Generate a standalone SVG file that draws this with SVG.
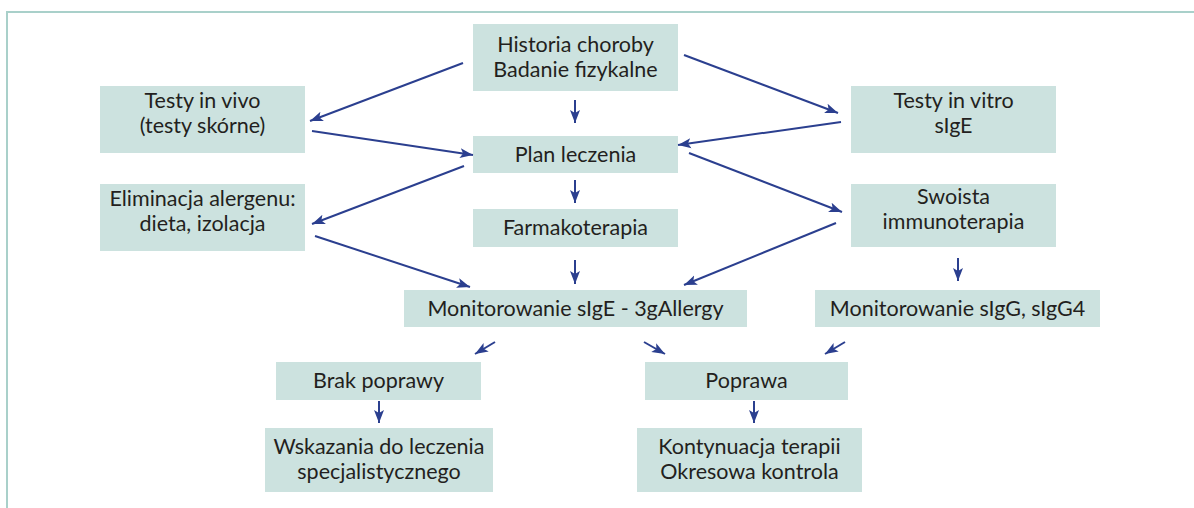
<svg xmlns="http://www.w3.org/2000/svg" width="1194" height="508" viewBox="0 0 1194 508">
<style>
.box{fill:#cce2df}
.t{font-family:Lato,"Liberation Sans",sans-serif;font-size:21.5px;fill:#231f20;text-anchor:middle}
.c{stroke:#2b3f8f;stroke-width:2;fill:none;marker-end:url(#ah)}
</style>
<defs>
<marker id="ah" markerWidth="14" markerHeight="12" refX="13" refY="5.5" orient="auto" markerUnits="userSpaceOnUse">
<path d="M0,0.5 L13,5.5 L0,10.5 L3,5.5 z" fill="#2b3f8f"/>
</marker>
</defs>
<rect width="1194" height="508" fill="#fff"/>
<path d="M7,508 V12 H1194" fill="none" stroke="#a9d0ca" stroke-width="2"/>
<g id="historia"><rect class="box" x="473" y="24" width="205" height="67"/><text class="t" x="575.5" y="52">Historia choroby</text><text class="t" x="575.5" y="77">Badanie fizykalne</text></g>
<g id="vivo"><rect class="box" x="100" y="86" width="205" height="67"/><text class="t" x="202.5" y="108">Testy in vivo</text><text class="t" x="202.5" y="133">(testy skórne)</text></g>
<g id="vitro"><rect class="box" x="851" y="86" width="205" height="67"/><text class="t" x="953.5" y="108">Testy in vitro</text><text class="t" x="953.5" y="133">sIgE</text></g>
<g id="plan"><rect class="box" x="473" y="136" width="205" height="37"/><text class="t" x="575.5" y="162">Plan leczenia</text></g>
<g id="eliminacja"><rect class="box" x="100" y="184" width="205" height="67"/><text class="t" x="202.5" y="206">Eliminacja alergenu:</text><text class="t" x="202.5" y="231">dieta, izolacja</text></g>
<g id="farmako"><rect class="box" x="473" y="209" width="205" height="38"/><text class="t" x="575.5" y="235">Farmakoterapia</text></g>
<g id="swoista"><rect class="box" x="851" y="184" width="205" height="63"/><text class="t" x="953.5" y="204">Swoista</text><text class="t" x="953.5" y="229">immunoterapia</text></g>
<g id="monsige"><rect class="box" x="404" y="290" width="343" height="37"/><text class="t" x="575.5" y="316">Monitorowanie sIgE - 3gAllergy</text></g>
<g id="monsigg"><rect class="box" x="815" y="290" width="285" height="37"/><text class="t" x="957.5" y="316">Monitorowanie sIgG, sIgG4</text></g>
<g id="brak"><rect class="box" x="276" y="362" width="205" height="38"/><text class="t" x="378.5" y="388">Brak poprawy</text></g>
<g id="poprawa"><rect class="box" x="645" y="362" width="203" height="38"/><text class="t" x="746.5" y="388">Poprawa</text></g>
<g id="wskazania"><rect class="box" x="265" y="428" width="228" height="64"/><text class="t" x="379" y="453.5">Wskazania do leczenia</text><text class="t" x="379" y="478.5">specjalistycznego</text></g>
<g id="kontynuacja"><rect class="box" x="637" y="428" width="225" height="64"/><text class="t" x="749.5" y="453.5">Kontynuacja terapii</text><text class="t" x="749.5" y="478.5">Okresowa kontrola</text></g>
<g id="connectors">
<line class="c" x1="463" y1="63" x2="310" y2="121"/>
<line class="c" x1="312" y1="131" x2="473" y2="155"/>
<line class="c" x1="684" y1="55" x2="838" y2="113"/>
<line class="c" x1="841" y1="122" x2="678" y2="145"/>
<line class="c" x1="575" y1="100" x2="575" y2="123"/>
<line class="c" x1="464" y1="166" x2="312" y2="224"/>
<line class="c" x1="689" y1="153" x2="842" y2="212"/>
<line class="c" x1="575" y1="180" x2="575" y2="203"/>
<line class="c" x1="315" y1="236" x2="470" y2="287"/>
<line class="c" x1="575" y1="260" x2="575" y2="284"/>
<line class="c" x1="836" y1="223" x2="684" y2="285"/>
<line class="c" x1="958" y1="258" x2="958" y2="281"/>
<line class="c" x1="495" y1="342" x2="475" y2="354"/>
<line class="c" x1="644" y1="342" x2="665" y2="354"/>
<line class="c" x1="845" y1="342" x2="825" y2="354"/>
<line class="c" x1="379" y1="401" x2="379" y2="423"/>
<line class="c" x1="754" y1="401" x2="754" y2="423"/>
</g>
</svg>
